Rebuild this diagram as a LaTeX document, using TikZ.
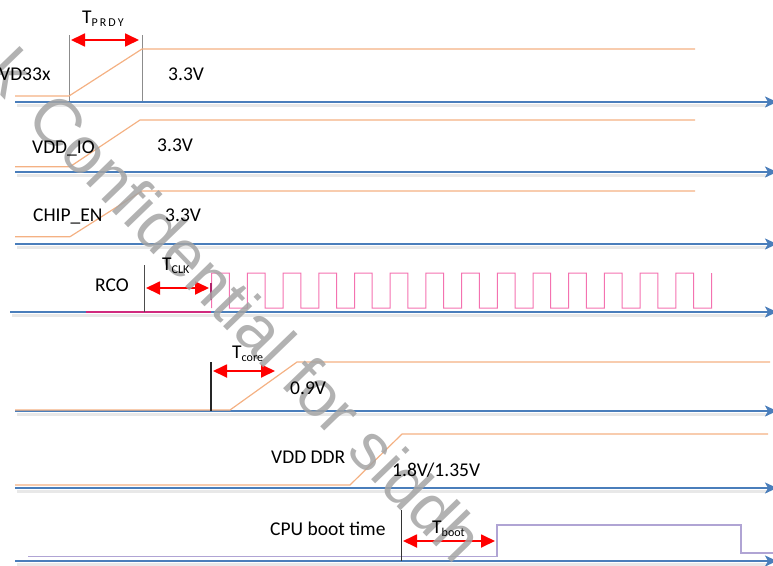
\documentclass[tikz,border=0pt]{standalone}
\usepackage{fontspec}
\setmainfont{Carlito}
\newfontfamily\wmfont{Liberation Sans}
\usetikzlibrary{arrows.meta}
\definecolor{axisblue}{HTML}{4A7EBB}
\definecolor{sigorange}{HTML}{F4B183}
\definecolor{clkpink}{HTML}{F472B0}
\definecolor{rcomag}{HTML}{D02A7E}
\definecolor{bootpurple}{HTML}{B0A4D4}
\definecolor{wmgray}{HTML}{A4A4A4}
\tikzset{
 axis/.style={draw=axisblue, line width=1.8pt, -{Stealth[length=12pt,width=11pt,inset=3pt]}},
 axshadow/.style={draw=black!9, line width=3pt},
 sig/.style={draw=sigorange, line width=1.2pt, line join=round},
 clk/.style={draw=clkpink, line width=1pt},
 boot/.style={draw=bootpurple, line width=1.4pt},
 marker/.style={draw=black!80, line width=0.9pt},
 guide/.style={draw=black!45, line width=0.8pt},
 tarrow/.style={draw=red, line width=1.8pt, {Triangle[length=14pt,width=13pt]}-{Triangle[length=14pt,width=13pt]}},
 lbl/.style={font=\fontsize{19.5}{22}\selectfont, inner sep=0pt, anchor=base west, text=black},
}
\newcommand{\Tsub}[1]{T\raisebox{-3pt}{\fontsize{12}{12}\selectfont #1}}
\begin{document}
\begin{tikzpicture}[x=1pt,y=-1pt]
\useasboundingbox (0,0) rectangle (773,565);
\clip (0,0) rectangle (773,565);
% axes
\foreach \yy/\xs [count=\i] in {102/15,172/15,244/15,312/10,411/15,488/15,561/15}{
  \draw[axshadow] (\xs+2,\yy+3) -- (768,\yy+3);
  \draw[axis] (\xs,\yy) coordinate (ax\i s) -- (777,\yy) coordinate (ax\i e);
}
% VDD33x
\draw[guide] (69,35) coordinate (g1t) -- (69,101) coordinate (g1b);
\draw[guide] (142,35) coordinate (g2t) -- (142,101) coordinate (g2b);
\draw[sig] (15,96) -- (69,96) -- (142,49) -- (695,49);
\coordinate (p1) at (71,40); \coordinate (p2) at (139,40);
\draw[tarrow] (p1) -- (p2);
% VDD_IO
\draw[sig] (15,166.7) -- (70,166.7) -- (140,120) -- (695,120);
% CHIP_EN
\draw[sig] (15,236.7) -- (70,236.7) -- (142,191) -- (695,191);
% RCO
\draw[draw=rcomag, line width=1.6pt] (86,312) -- (211,312);
\draw[marker, line width=0.8pt, draw=black!70] (144,265) coordinate (r1t) -- (144,312) coordinate (r1b);
\draw[clk] (211.7,308) \foreach \k in {0,...,13}{ -- ({211.7+35.7*\k},273) -- ({229.4+35.7*\k},273) -- ({229.4+35.7*\k},308) -- ({247.4+35.7*\k},308) } -- (711.5,273);
\draw[draw=rcomag!85!black, line width=2pt] (211,283) coordinate (r2t) -- (211,300) coordinate (r2b);
\coordinate (c1) at (146,288); \coordinate (c2) at (209,288);
\draw[tarrow] (c1) -- (c2);
% core
\draw[sig] (15,410) -- (230,410) -- (297,362) -- (770,362);
\draw[marker, line width=1.6pt, draw=black!85] (211,362) coordinate (k1t) -- (211,411) coordinate (k1b);
\coordinate (k2) at (213,371); \coordinate (k3) at (275,371);
\draw[tarrow] (k2) -- (k3);
% DDR
\draw[sig] (15,485) -- (350,485) -- (402,434) -- (768,434);
% CPU boot
\draw[boot] (28,556.5) -- (497,556.5) -- (497,525) -- (741,525) -- (741,553) -- (773,553);
\draw[marker, line width=0.9pt] (401,510) coordinate (b1t) -- (401,561) coordinate (b1b);
\coordinate (b2) at (403,541); \coordinate (b3) at (495,541);
\draw[tarrow] (b2) -- (b3);
% watermark
\node[font=\wmfont\fontsize{66}{66}\selectfont, text=wmgray, opacity=0.85, rotate=-46, anchor=base west, inner sep=0pt] (wm) at (-18,76) {k\hspace{10pt} Confidential for siddh};
% labels
\node[lbl] (tprdy) at (82,23) {\Tsub{P\,R\,D\,Y}};
\node[lbl] (n1) at (-1,80) {VD33x};
\node[lbl] (v1) at (168,80) {3.3V};
\node[lbl] (n2) at (32,153) {VDD\_IO};
\node[lbl] (v2) at (157,151) {3.3V};
\node[lbl] (n3) at (33,221.5) {CHIP\_EN};
\node[lbl] (v3) at (165,221.5) {3.3V};
\node[lbl] (tclk) at (162,270) {\Tsub{CLK}};
\node[lbl] (n4) at (95,291) {RCO};
\node[lbl] (tcore) at (232,358) {\Tsub{core}};
\node[lbl] (v5) at (290,394) {0.9V};
\node[lbl] (n6) at (271,463) {VDD DDR};
\node[lbl] (v6) at (392,476) {1.8V/1.35V};
\node[lbl] (tboot) at (432,533) {\Tsub{boot}};
\node[lbl] (n7) at (270,535) {CPU boot time};
\end{tikzpicture}
\end{document}
